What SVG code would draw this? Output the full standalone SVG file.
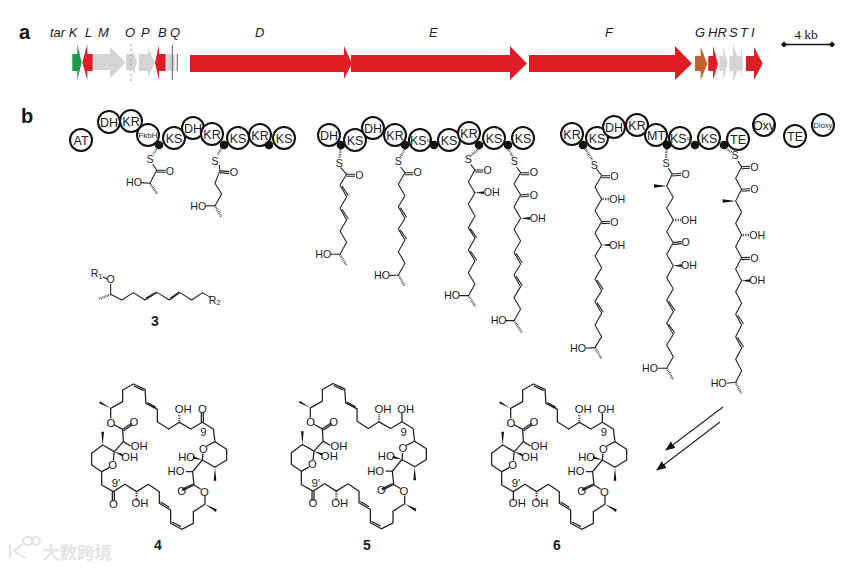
<svg xmlns="http://www.w3.org/2000/svg" width="850" height="569" viewBox="0 0 850 569">
<style>
text{font-family:"Liberation Sans",Arial,sans-serif;fill:#1c1c1c}
.gn{font-style:italic;font-size:13px}
.lab{font-weight:700;font-size:20px;fill:#111}
.num{font-weight:700;font-size:14px;text-anchor:middle}
.dom circle{fill:#fff;stroke:#111;stroke-width:2}
.dom text{font-size:12.5px;text-anchor:middle}
.dot{fill:#111}
.red{fill:#e21c24}.gry{fill:#d4d4d4}
.mol{fill:none;stroke:#222;stroke-width:3.2;stroke-linejoin:round}
.hash{fill:none;stroke:#222;stroke-width:7;stroke-dasharray:2 3}
.wedge{fill:#111;stroke:none}
.at{font-size:32px;text-anchor:middle}
.bt{font-size:34px;text-anchor:middle}
.ring{stroke-width:3.8}
.arrow{stroke:#222;stroke-width:1.1;fill:none}
</style>
<defs>
<marker id="ah" markerWidth="12" markerHeight="10" refX="9" refY="4" orient="auto" markerUnits="userSpaceOnUse"><path d="M0 0L10 4L0 8z" fill="#111"/></marker>
<g id="ringbase">
<path class="mol ring" d="M92 115L128 95V60L160 42L195 58L198 100L232 118V155L266 177L298 157L333 177L367 157L400 177L405 215L440 238V270L405 292L367 270L369 250M380 228L405 215M367 270L338 305L342 345L362 357M342 345L308 362M339 342L306 358M375 378V403L340 425V460L305 478L272 460V420L238 400V365L205 343L170 365L135 343L100 365L65 345V305L35 285V250L68 225L103 245L100 272M88 293L65 305M103 245L130 215L128 178L155 160M131 182L157 164M128 178L103 165M92 145V115M130 215L152 228M338 305L318 305"/>
<path class="mol ring" d="M162 48L191 62M202 98L228 112M276 456L303 470M242 396L268 412"/>
<path class="wedge" d="M92 115L60 94L58 100zM68 225L64 185L72 185zM405 292L401 332L409 332zM375 403L410 418L408 426zM367 270L340 258L338 266zM103 245L128 251L126 259z"/>
<path class="hash" d="M298 157V132M170 365V392"/>
</g>
</defs>
<rect width="850" height="569" fill="#fff"/>

<g id="labels">
<text class="lab" x="19" y="39">a</text>
<text class="lab" x="21" y="123">b</text>
</g>

<g id="gene-labels">
<text class="gn" x="50" y="37">tar K</text>
<text class="gn" x="85" y="37">L</text>
<text class="gn" x="98" y="37">M</text>
<text class="gn" x="125" y="37">O</text>
<text class="gn" x="141" y="37">P</text>
<text class="gn" x="158" y="37">B</text>
<text class="gn" x="170" y="37">Q</text>
<text class="gn" x="255" y="37">D</text>
<text class="gn" x="429" y="37">E</text>
<text class="gn" x="605" y="37">F</text>
<text class="gn" x="695" y="37">G</text>
<text class="gn" x="708" y="37">HR</text>
<text class="gn" x="729" y="37">S</text>
<text class="gn" x="740" y="37">T</text>
<text class="gn" x="751" y="37">I</text>
</g>

<g id="genes">
<path fill="#1f9a4a" d="M72.3 54V71H77.3V80L81.7 62.5L77.3 44V54z"/>
<path class="red" d="M92.7 54V71H87.3V80L82.3 62.5L87.3 44V54z"/>
<path class="gry" d="M93.3 54V70H110V78.5L125.7 62.5L110 46.7V54z"/>
<path class="gry" d="M126 54V70H133V75L137 62.5L133 50V54z"/>
<path stroke="#999" stroke-dasharray="2 3" d="M131 44V81"/>
<path class="gry" d="M139 54V71H148V77L155 62.5L148 48V54z"/>
<path class="red" d="M165.7 54V71H159V80L155 62.5L159 45V54z"/>
<path class="gry" d="M167 54V71H175V54z"/>
<path stroke="#777" stroke-width="1.2" d="M172.3 45V80M177.3 54V71"/>
<path class="red" d="M190 55V72H344V79L352 63.5L344 46V55z"/>
<path class="red" d="M351 55V72H510V80L527 63.5L510 46V55z"/>
<path class="red" d="M529 55V72H675V80L692 63.5L675 46V55z"/>
<path fill="#bf632c" d="M695 56V71H700.7V80L707.3 64L700.7 46.7V56z"/>
<path class="red" d="M708.3 56V71H713V80L718 64L713 46V56z"/>
<path class="gry" d="M719.3 56V71H723.3V80L727.7 64L723.3 46V56z"/>
<path class="gry" d="M729.3 56V71H733V82L740 64L733 44V56z"/>
<path class="gry" d="M736 56V71H741V80L743 64L741 45V56z"/>
<path class="red" d="M746 56V71H754V80L762.7 63.5L754 47V56z"/>
</g>

<g id="scale">
<path stroke="#111" stroke-width="1.6" d="M783 44.5H833"/>
<path fill="#111" d="M781 44.5l3-3 3 3-3 3zM829 44.5l3-3 3 3-3 3z"/>
<text x="806" y="39" text-anchor="middle" style="font-family:'Liberation Serif',serif;font-size:13.5px">4 kb</text>
</g>

<g id="dom-at" class="dom"><circle cx="81" cy="140" r="11"/><text x="81" y="144.5">AT</text></g>
<g id="dom-dh1" class="dom"><circle cx="109" cy="122" r="11"/><text x="109" y="126.5">DH</text></g>
<g id="dom-kr1" class="dom"><circle cx="131" cy="121" r="11"/><text x="131" y="125.5">KR</text></g>
<g id="dom-fkbh" class="dom"><circle cx="148" cy="135" r="11"/><text x="148" y="138" style="font-size:8px">FkbH</text></g>
<g id="dom-ks1" class="dom"><circle cx="174" cy="138" r="11"/><text x="174" y="142.5">KS</text></g>
<g id="dom-dh2" class="dom"><circle cx="193" cy="128" r="11"/><text x="193" y="132.5">DH</text></g>
<g id="dom-kr2" class="dom"><circle cx="212" cy="134" r="11"/><text x="212" y="138.5">KR</text></g>
<g id="dom-ks2" class="dom"><circle cx="238" cy="138" r="11"/><text x="238" y="142.5">KS</text></g>
<g id="dom-kr3" class="dom"><circle cx="260" cy="135" r="11"/><text x="260" y="139.5">KR</text></g>
<g id="dom-ks3" class="dom"><circle cx="284" cy="138" r="11"/><text x="284" y="142.5">KS</text></g>

<g id="dom-dh3" class="dom"><circle cx="329" cy="135" r="11"/><text x="329" y="139.5">DH</text></g>
<g id="dom-ks4" class="dom"><circle cx="355" cy="140" r="11"/><text x="355" y="144.5">KS</text></g>
<g id="dom-dh4" class="dom"><circle cx="373" cy="128" r="11"/><text x="373" y="132.5">DH</text></g>
<g id="dom-kr4" class="dom"><circle cx="395" cy="135" r="11"/><text x="395" y="139.5">KR</text></g>
<g id="dom-ksq1" class="dom"><circle cx="420" cy="140" r="11"/><text x="420" y="144.5">KS<tspan font-size="6" dy="-3">q</tspan></text></g>
<g id="dom-ks5" class="dom"><circle cx="449" cy="140" r="11"/><text x="449" y="144.5">KS</text></g>
<g id="dom-kr5" class="dom"><circle cx="469" cy="133" r="11"/><text x="469" y="137.5">KR</text></g>
<g id="dom-ks6" class="dom"><circle cx="494" cy="138" r="11"/><text x="494" y="142.5">KS</text></g>
<g id="dom-ks7" class="dom"><circle cx="523" cy="138" r="11"/><text x="523" y="142.5">KS</text></g>

<g id="dom-kr6" class="dom"><circle cx="572" cy="134" r="11"/><text x="572" y="138.5">KR</text></g>
<g id="dom-ks8" class="dom"><circle cx="597" cy="138" r="11"/><text x="597" y="142.5">KS</text></g>
<g id="dom-dh5" class="dom"><circle cx="614" cy="127" r="11"/><text x="614" y="131.5">DH</text></g>
<g id="dom-kr7" class="dom"><circle cx="637" cy="125" r="11"/><text x="637" y="129.5">KR</text></g>
<g id="dom-mt" class="dom"><circle cx="656" cy="135" r="11"/><text x="656" y="139.5">MT</text></g>
<g id="dom-ksq2" class="dom"><circle cx="680" cy="138" r="11"/><text x="680" y="142.5">KS<tspan font-size="6" dy="-3">q</tspan></text></g>
<g id="dom-ks9" class="dom"><circle cx="709" cy="138" r="11"/><text x="709" y="142.5">KS</text></g>
<g id="dom-te1" class="dom"><circle cx="738" cy="139" r="11"/><text x="738" y="143.5">TE</text></g>
<g id="dom-oxy" class="dom"><circle cx="764" cy="125" r="11"/><text x="764" y="129.5">Oxy</text></g>
<g id="dom-te2" class="dom"><circle cx="795" cy="136" r="11"/><text x="795" y="140.5">TE</text></g>
<g id="dom-dioxy" class="dom"><circle cx="823" cy="125" r="11"/><text x="823" y="128" style="font-size:7.5px">Dioxy</text></g>

<g id="acp-dots" class="dot">
<circle cx="159" cy="145" r="4.3"/><circle cx="224" cy="145" r="4.3"/><circle cx="269" cy="145" r="4.3"/>
<circle cx="341" cy="145" r="4.3"/><circle cx="405" cy="145" r="4.3"/><circle cx="434" cy="145" r="4.3"/><circle cx="479" cy="145" r="4.3"/><circle cx="508" cy="145" r="4.3"/>
<circle cx="583" cy="145" r="4.3"/><circle cx="667" cy="145" r="4.3"/><circle cx="695" cy="145" r="4.3"/><circle cx="724" cy="145" r="4.3"/>
</g>

<g id="chains-1" transform="translate(0,15) scale(.3333)">
<path class="hash" d="M475 395L458 420M667 395L652 420"/>
<path class="mol" d="M458 447L470 465L497 466M470 471L497 472M470 465L450 505L422 503M658 450L660 467L688 470M660 473L688 476M660 467L645 505L665 537L645 572L615 573"/>
<path class="hash" d="M450 505L472 537M645 572L665 607"/>
<text class="at" x="450" y="444">S</text><text class="at" x="510" y="479">O</text><text class="at" x="402" y="513">HO</text>
<text class="at" x="645" y="449">S</text><text class="at" x="702" y="483">O</text><text class="at" x="595" y="585">HO</text>
</g>

<g id="chains-2" transform="translate(310,105) scale(.3333)">
<path class="hash" d="M92 132L88 160M285 132L270 157M508 130L482 152M593 130L610 157"/>
<path class="mol" d="M92 188L110 208L135 208M110 214L135 214M110 208L90 240L110 275L90 310L110 345L90 378L110 412L90 448L62 448M96 243L115 272M96 313L115 342"/>
<path class="mol" d="M272 186L285 203L310 203M285 209L310 209M285 203L265 238L285 272L265 305L285 340L265 372L285 405L265 440L285 475L265 510L238 512M271 308L290 337M271 375L290 402"/>
<path class="mol" d="M482 178L495 195L520 195M495 201L520 201M495 195L475 230L495 263L475 298L495 333L475 368L495 400L475 435L495 468L475 503L495 538L475 572L448 572M481 371L500 398M481 438L500 465"/>
<path class="mol" d="M620 186L632 203L658 203M632 209L658 209M632 203L612 237L632 270L658 267M632 276L658 273M632 270L612 305L632 340L612 373L632 408L612 442L632 477L612 510L632 545L612 578L632 612L612 647L587 647M618 445L637 474M618 513L637 542"/>
<path class="wedge" d="M495 263L522 259L522 267zM632 340L660 336L660 344z"/>
<path class="hash" d="M90 448L110 482M265 510L285 545M475 572L497 605M612 647L635 682"/>
<text class="at" x="88" y="186">S</text><text class="at" x="148" y="221">O</text><text class="at" x="40" y="459">HO</text>
<text class="at" x="265" y="181">S</text><text class="at" x="323" y="214">O</text><text class="at" x="216" y="523">HO</text>
<text class="at" x="475" y="174">S</text><text class="at" x="533" y="208">O</text><text class="at" x="545" y="274">OH</text><text class="at" x="426" y="583">HO</text>
<text class="at" x="613" y="181">S</text><text class="at" x="672" y="214">O</text><text class="at" x="672" y="281">O</text><text class="at" x="683" y="351">OH</text><text class="at" x="566" y="658">HO</text>
</g>

<g id="chains-3" transform="translate(555,105) scale(.3333)">
<path class="hash" d="M90 130L112 165M335 132L333 160M515 132L530 142M140 282L165 282M355 345L380 345M560 390L585 390"/>
<path class="mol" d="M125 192L140 212L165 212M140 218L165 218M140 212L120 247L140 282L120 317L140 350L165 349M140 356L165 355M140 350L120 385L140 420L120 453L140 488L120 522L140 557L120 590L140 625L120 660L140 695L120 728L92 730M126 525L145 554M126 593L145 622"/>
<path class="mol" d="M340 190L352 207L378 205M352 213L378 211M352 207L335 243L355 277L335 310L355 345L335 380L355 413L380 410M355 419L380 416M355 413L335 448L355 482L335 518L355 552L335 585L355 620L335 655L355 688L335 720L355 755L335 790L308 790M341 588L360 617M341 658L360 685"/>
<path class="mol" d="M548 168L560 185L585 184M560 191L585 190M560 185L542 220L560 253L585 251M560 259L585 257M560 253L542 288L560 322L542 355L560 390L542 425L560 458L585 457M560 464L585 463M560 458L542 492L560 527L542 560L560 595L542 628L560 660L542 695L560 730L542 763L560 797L542 832L515 835M548 631L566 657M548 698L566 727"/>
<path class="wedge" d="M140 420L165 416V424zM335 243L297 238L297 248zM355 482L380 478V486zM542 288L503 283L503 293zM560 527L585 523V531z"/>
<path class="hash" d="M120 728L140 762M335 790L355 825M542 832L560 868"/>
<text class="at" x="118" y="191">S</text><text class="at" x="178" y="226">O</text><text class="at" x="187" y="294">OH</text><text class="at" x="178" y="363">O</text><text class="at" x="187" y="431">OH</text><text class="at" x="69" y="741">HO</text>
<text class="at" x="333" y="186">S</text><text class="at" x="392" y="219">O</text><text class="at" x="402" y="356">OH</text><text class="at" x="392" y="424">O</text><text class="at" x="402" y="493">OH</text><text class="at" x="285" y="801">HO</text>
<text class="at" x="540" y="163">S</text><text class="at" x="598" y="197">O</text><text class="at" x="598" y="265">O</text><text class="at" x="607" y="401">OH</text><text class="at" x="598" y="471">O</text><text class="at" x="607" y="538">OH</text><text class="at" x="491" y="846">HO</text>
</g>

<g id="compound-3" transform="translate(80,255) scale(.3333)">
<path class="mol" d="M68 65L82 72M92 86V118L125 135L160 113L195 135L232 113L268 135L300 113L335 135L368 113L392 128M197 130L230 110M270 130L298 110"/>
<path class="hash" d="M92 118L58 132"/>
<text class="at" x="50" y="67">R<tspan font-size="22" dy="5">1</tspan></text>
<text class="at" x="92" y="85">O</text>
<text class="at" x="404" y="146">R<tspan font-size="22" dy="5">2</tspan></text>
</g>
<text class="num" x="155" y="326">3</text>

<g id="compound-4" transform="translate(80,370) scale(.3333)">
<use href="#ringbase"/>
<path class="mol ring" d="M364 157V127M370 157V127M97 365V394M103 365V394"/>
<text class="bt" x="310" y="130">OH</text><text class="bt" x="367" y="129">O</text><text class="bt" x="370" y="199">9</text><text class="bt" x="370" y="248">O</text><text class="bt" x="320" y="272">HO</text><text class="bt" x="288" y="316">HO</text><text class="bt" x="305" y="374">O</text><text class="bt" x="373" y="377">O</text><text class="bt" x="180" y="412">OH</text><text class="bt" x="100" y="414">O</text><text class="bt" x="108" y="352">9'</text><text class="bt" x="98" y="297">O</text><text class="bt" x="149" y="272">OH</text><text class="bt" x="178" y="241">OH</text><text class="bt" x="162" y="169">O</text><text class="bt" x="93" y="170">O</text>
</g>
<text class="num" x="158" y="550">4</text>

<g id="compound-5" transform="translate(279.7,369.5) scale(.3333)">
<use href="#ringbase"/>
<path class="mol ring" d="M367 157V130M97 365V394M103 365V394"/>
<text class="bt" x="310" y="130">OH</text><text class="bt" x="378" y="130">OH</text><text class="bt" x="372" y="199">9</text><text class="bt" x="370" y="248">O</text><text class="bt" x="320" y="272">HO</text><text class="bt" x="288" y="316">HO</text><text class="bt" x="305" y="374">O</text><text class="bt" x="373" y="377">O</text><text class="bt" x="180" y="412">OH</text><text class="bt" x="100" y="414">O</text><text class="bt" x="108" y="352">9'</text><text class="bt" x="98" y="297">O</text><text class="bt" x="149" y="272">OH</text><text class="bt" x="178" y="241">OH</text><text class="bt" x="162" y="169">O</text><text class="bt" x="93" y="170">O</text>
</g>
<text class="num" x="367" y="550">5</text>

<g id="compound-6" transform="translate(480,370) scale(.3333)">
<use href="#ringbase"/>
<path class="mol ring" d="M367 157V130M100 365V392"/>
<text class="bt" x="310" y="130">OH</text><text class="bt" x="378" y="130">OH</text><text class="bt" x="372" y="199">9</text><text class="bt" x="370" y="248">O</text><text class="bt" x="320" y="272">HO</text><text class="bt" x="288" y="316">HO</text><text class="bt" x="305" y="374">O</text><text class="bt" x="373" y="377">O</text><text class="bt" x="180" y="412">OH</text><text class="bt" x="112" y="412">OH</text><text class="bt" x="108" y="352">9'</text><text class="bt" x="98" y="297">O</text><text class="bt" x="149" y="272">OH</text><text class="bt" x="178" y="241">OH</text><text class="bt" x="162" y="169">O</text><text class="bt" x="93" y="170">O</text>
</g>
<text class="num" x="557" y="550">6</text>

<g id="connectors">
<path class="arrow" marker-end="url(#ah)" d="M723 407L666 450"/>
<path class="arrow" marker-end="url(#ah)" d="M720 422L657 470"/>
</g>

<g id="watermark" fill="none" stroke="#e2e2e2" stroke-width="2">
<path d="M10 545V558M23 544L14 551L25 558"/>
<ellipse cx="28" cy="541" rx="5" ry="4"/><ellipse cx="36" cy="541" rx="4" ry="4"/>
<text x="42" y="559" stroke="none" style="font-family:'Noto Sans CJK SC','Liberation Sans',sans-serif;font-size:17.5px;fill:#e4e4e4;font-weight:700">大数跨境</text>
</g>
</svg>
